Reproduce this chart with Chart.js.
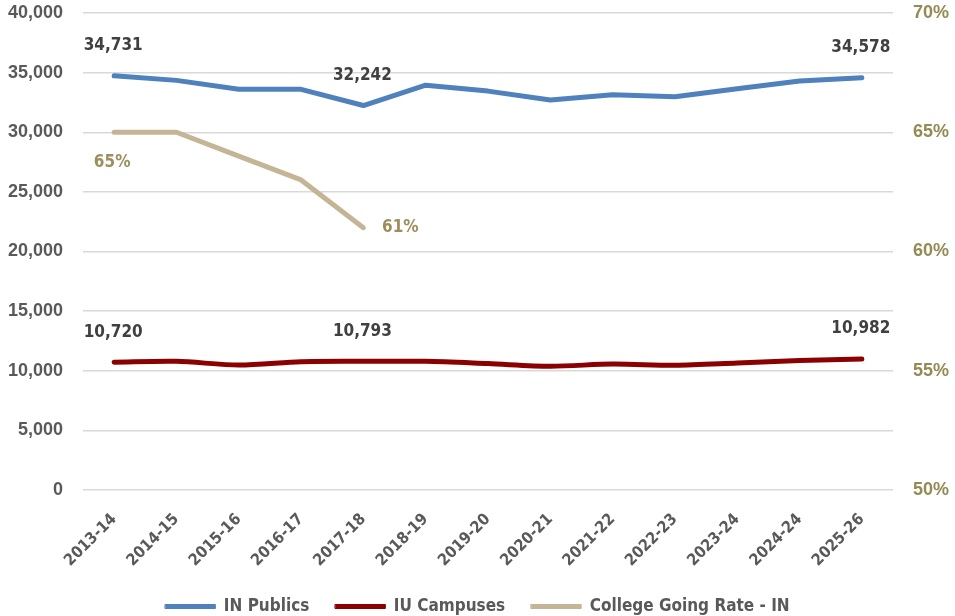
<!DOCTYPE html>
<html>
<head>
<meta charset="utf-8">
<script src="https://cdn.jsdelivr.net/npm/chart.js@4.4.1/dist/chart.umd.min.js"></script>
<style>
  html, body { margin: 0; padding: 0; background: #ffffff; }
  #wrap { width: 955px; height: 616px; }
</style>
</head>
<body>
<div id="wrap"><canvas id="grafik" width="955" height="616"></canvas></div>
<script>
// ======================
// DATA
// ======================

const tahun = ["2013-14", "2014-15", "2015-16", "2016-17", "2017-18", "2018-19", "2019-20",
               "2020-21", "2021-22", "2022-23", "2023-24", "2024-24", "2025-26"];

const inPublics = [34731, 34350, 33600, 33600, 32242, 33950, 33450,
                   32700, 33150, 32980, 33650, 34300, 34578];

const iuCampuses = [10720, 10790, 10480, 10760, 10793, 10790, 10600,
                    10380, 10560, 10460, 10650, 10860, 10982];

const collegeRate = [65, 65, 64, 63, 61, null, null, null, null, null, null, null, null];

const tickKiri = [0, 5000, 10000, 15000, 20000, 25000, 30000, 35000, 40000];
const tickKanan = [50, 55, 60, 65, 70];

// which points get a value label
const labelPublics = [0, 4, 12];
const labelIU = [0, 4, 12];
const labelRate = [0, 4];

const fontNarrow = "'DejaVu Sans Condensed', 'Liberation Sans Narrow', sans-serif";
const fontAxis = "'Liberation Sans', Arial, sans-serif";

// ======================
// LABEL NILAI
// ======================

const labelNilai = {
    id: "labelNilai",
    afterDatasetsDraw(chart) {
        const ctx = chart.ctx;
        ctx.save();
        ctx.font = "bold 17px " + fontNarrow;
        ctx.textAlign = "center";
        ctx.textBaseline = "middle";

        const m0 = chart.getDatasetMeta(0);
        const m1 = chart.getDatasetMeta(1);
        const m2 = chart.getDatasetMeta(2);

        ctx.fillStyle = "#404040";
        labelPublics.forEach(i => {
            const p = m0.data[i];
            ctx.fillText(inPublics[i].toLocaleString("en-US"), p.x - 1, p.y - 30);
        });
        labelIU.forEach(i => {
            const p = m1.data[i];
            ctx.fillText(iuCampuses[i].toLocaleString("en-US"), p.x - 1, p.y - 30);
        });

        ctx.fillStyle = "#9c8f5c";
        labelRate.forEach((i, n) => {
            const p = m2.data[i];
            if (n === 0) {
                ctx.fillText(collegeRate[i] + "%", p.x - 2, p.y + 30);
            } else {
                ctx.fillText(collegeRate[i] + "%", p.x + 37, p.y);
            }
        });
        ctx.restore();
    }
};

// ======================
// GRAFIK
// ======================

const ctx = document.getElementById("grafik");

new Chart(ctx, {
    type: "line",
    data: {
        labels: tahun,
        datasets: [
            {
                label: "IN Publics",
                data: inPublics,
                borderColor: "#4f81bd",
                backgroundColor: "#4f81bd",
                borderWidth: 5,
                pointRadius: 0,
                tension: 0,
                borderCapStyle: "round",
                borderJoinStyle: "round",
                yAxisID: "y"
            },
            {
                label: "IU Campuses",
                data: iuCampuses,
                borderColor: "#8b0000",
                backgroundColor: "#8b0000",
                borderWidth: 5,
                pointRadius: 0,
                tension: 0.3,
                borderCapStyle: "round",
                borderJoinStyle: "round",
                yAxisID: "y"
            },
            {
                label: "College Going Rate - IN",
                data: collegeRate,
                borderColor: "#c4b596",
                backgroundColor: "#c4b596",
                borderWidth: 5,
                pointRadius: 0,
                tension: 0,
                borderCapStyle: "round",
                borderJoinStyle: "round",
                spanGaps: false,
                yAxisID: "y2"
            }
        ]
    },
    options: {
        responsive: false,
        animation: false,
        layout: { padding: { top: 13, left: 0, right: 0, bottom: -9 } },
        plugins: {
            tooltip: { enabled: false },
            legend: {
                position: "bottom",
                labels: {
                    boxWidth: 50,
                    boxHeight: 4,
                    padding: 26,
                    color: "#595959",
                    font: { family: fontNarrow, size: 17, weight: "bold" },
                    generateLabels(chart) {
                        const items = Chart.defaults.plugins.legend.labels.generateLabels(chart);
                        items.forEach(it => {
                            it.fillStyle = it.strokeStyle;
                            it.lineWidth = 1;
                        });
                        return items;
                    }
                }
            }
        },
        scales: {
            x: {
                offset: true,
                grid: { display: false },
                border: { display: false },
                ticks: {
                    color: "#595959",
                    minRotation: 45,
                    maxRotation: 45,
                    padding: 12,
                    font: { family: fontNarrow, size: 16, weight: "bold" }
                },
                afterFit(s) { s.height = 82; }
            },
            y: {
                position: "left",
                min: 0,
                max: 40000,
                afterBuildTicks(s) { s.ticks = tickKiri.map(v => ({ value: v })); },
                grid: { color: "#d9d9d9", lineWidth: 1.5, drawTicks: false },
                border: { display: false },
                ticks: {
                    color: "#595959",
                    padding: 20,
                    font: { family: fontAxis, size: 18, weight: "bold" },
                    callback: v => v.toLocaleString("en-US")
                },
                afterFit(s) { s.width = 83; s.paddingTop = 0; s.paddingBottom = 0; }
            },
            y2: {
                position: "right",
                min: 50,
                max: 70,
                afterBuildTicks(s) { s.ticks = tickKanan.map(v => ({ value: v })); },
                grid: { display: false, drawTicks: false },
                border: { display: false },
                ticks: {
                    color: "#948a54",
                    padding: 20,
                    font: { family: fontAxis, size: 18, weight: "bold" },
                    callback: v => v + "%"
                },
                afterFit(s) { s.width = 62; s.paddingTop = 0; s.paddingBottom = 0; }
            }
        }
    },
    plugins: [labelNilai]
});
</script>
</body>
</html>
